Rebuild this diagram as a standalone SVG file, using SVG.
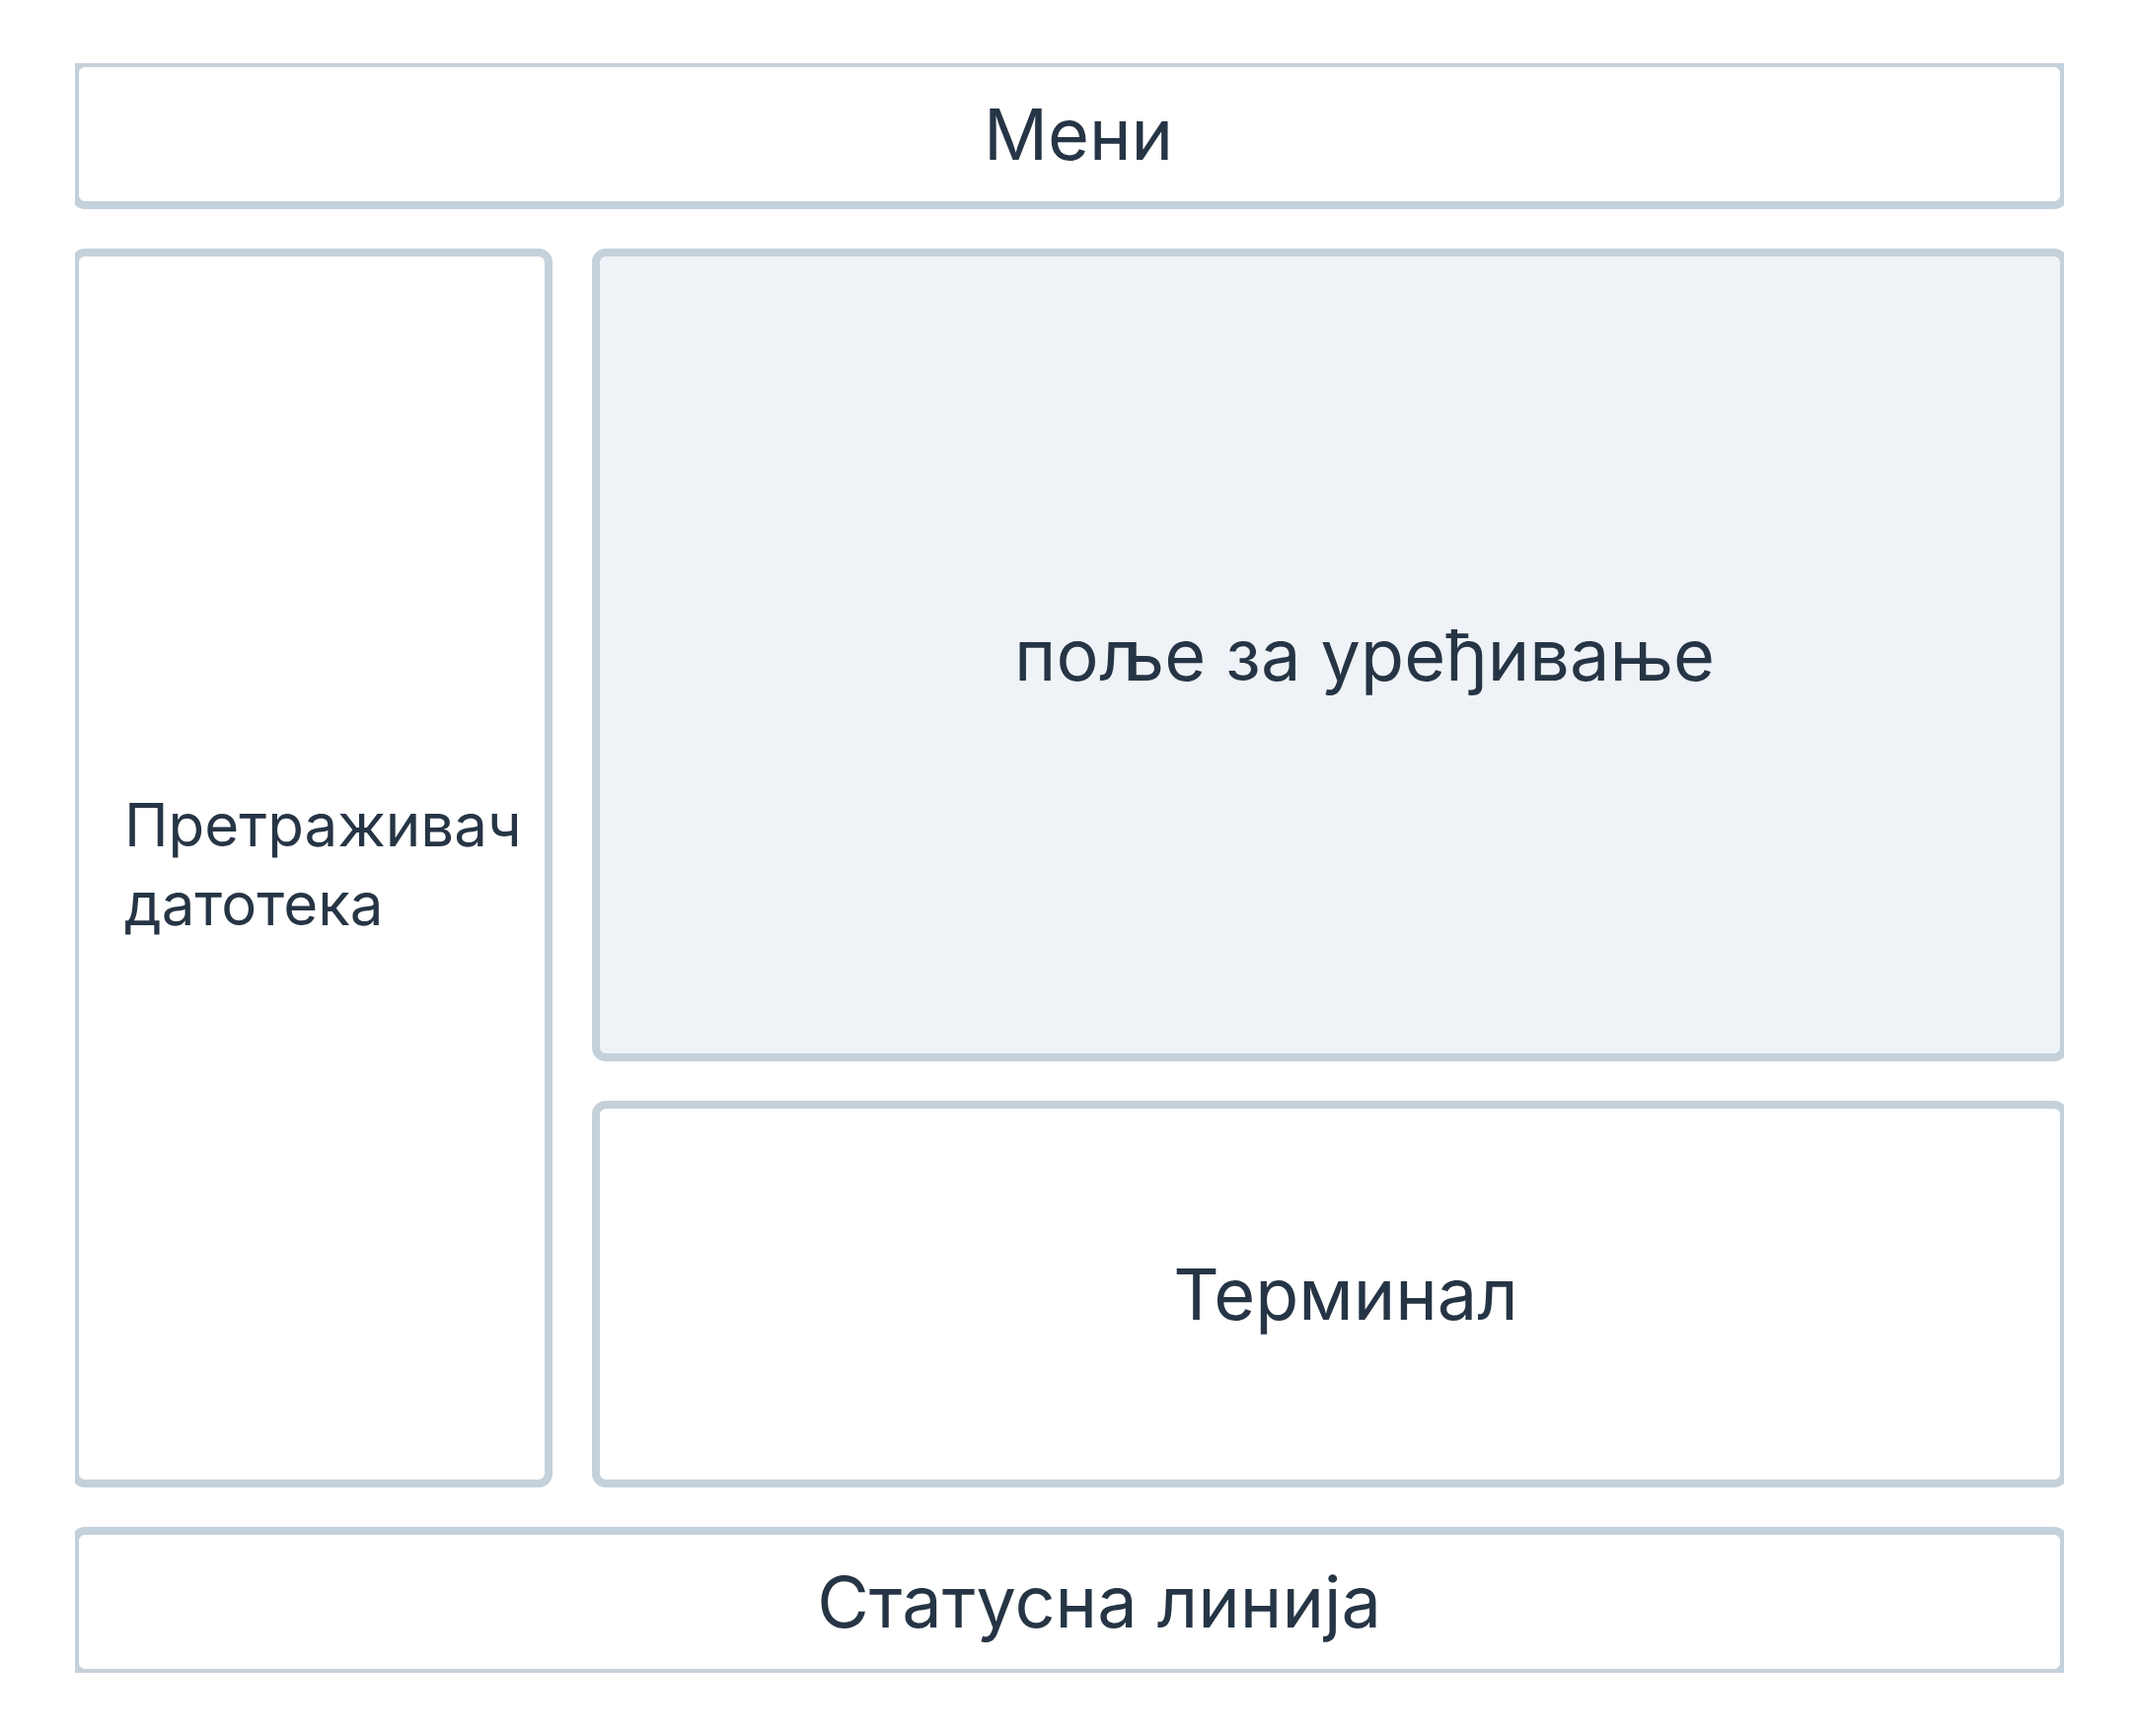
<svg xmlns="http://www.w3.org/2000/svg" width="2168" height="1760" viewBox="0 0 2168 1760">
<style>
.box{fill:#ffffff;stroke:#c4d0da;stroke-width:8}
.edit{fill:#eff3f7}
.lbl{font-family:Inter,"Noto Sans","DejaVu Sans",sans-serif;font-size:72px;fill:#263545;text-anchor:middle}
.side{font-family:Inter,"Noto Sans","DejaVu Sans",sans-serif;font-size:60px;fill:#263545}
</style>
<defs>
<clipPath id="clip"><rect x="76" y="64" width="2016" height="1632"/></clipPath>
</defs>
<rect width="2168" height="1760" fill="#ffffff"/>
<g clip-path="url(#clip)">
<g id="menu">
<rect class="box" x="76" y="64" width="2016" height="144" rx="10"/>
<text class="lbl" x="1093" y="162">Мени</text>
</g>
<g id="file-browser">
<rect class="box" x="76" y="256" width="480" height="1248" rx="10"/>
<text class="side" x="126" y="858">Претраживач</text>
<text class="side" x="126" y="938">датотека</text>
</g>
<g id="editor">
<rect class="box edit" x="604" y="256" width="1488" height="816" rx="10"/>
<text class="lbl" x="1383" y="690">поље за уређивање</text>
</g>
<g id="terminal">
<rect class="box" x="604" y="1120" width="1488" height="384" rx="10"/>
<text class="lbl" x="1364" y="1338">Терминал</text>
</g>
<g id="status-bar">
<rect class="box" x="76" y="1552" width="2016" height="144" rx="10"/>
<text class="lbl" x="1114" y="1650">Статусна линија</text>
</g>
<g id="connectors"></g>
</g>
</svg>
